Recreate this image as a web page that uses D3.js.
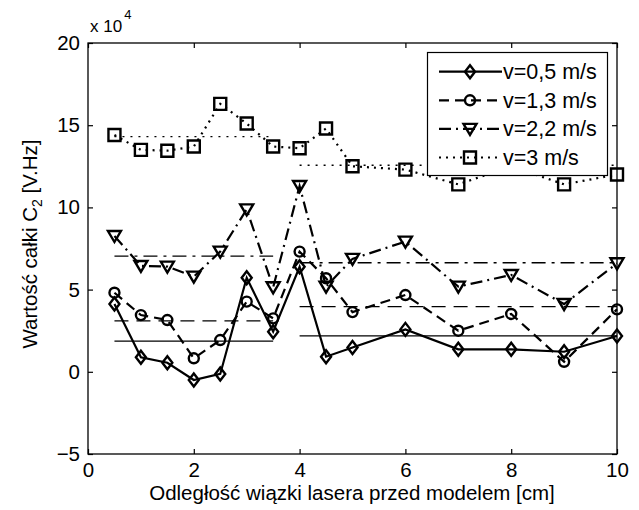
<!DOCTYPE html>
<html>
<head>
<meta charset="utf-8">
<script src="https://cdn.jsdelivr.net/npm/d3@7"></script>
<style>
  body { margin: 0; background: #fff; }
  text { font-family: "Liberation Sans", Arial, sans-serif; fill: #000; }
</style>
</head>
<body>
<svg id="chart" width="639" height="510"></svg>
<script>
// Measurement positions along the laser beam [cm]
const distances = [0.5, 1, 1.5, 2, 2.5, 3, 3.5, 4, 4.5, 5, 6, 7, 8, 9, 10];

// Integral C2 values, in units of 10^4 V.Hz
const v05 = [4.12, 0.88, 0.55, -0.5, -0.13, 5.72, 2.44, 6.39, 0.92, 1.48, 2.58, 1.37, 1.37, 1.22, 2.18];
const v13 = [4.81, 3.45, 3.15, 0.82, 1.93, 4.27, 3.25, 7.31, 5.69, 3.63, 4.67, 2.50, 3.52, 0.61, 3.80];
const v22 = [8.26, 6.44, 6.40, 5.79, 7.31, 9.88, 5.14, 11.30, 5.18, 6.87, 7.92, 5.18, 5.89, 4.12, 6.60];
const v30 = [14.4, 13.5, 13.45, 13.7, 16.3, 15.1, 13.7, 13.6, 14.8, 12.5, 12.3, 11.4, 12.5, 11.4, 12.0];

const seriesNames = ["v=0,5 m/s", "v=1,3 m/s", "v=2,2 m/s", "v=3 m/s"];
const xTickValues = [0, 2, 4, 6, 8, 10];
const yTickValues = [-5, 0, 5, 10, 15, 20];
// Averages are taken separately before and after x = 4 cm
const splitAt = 4;

const svg = d3.select("#chart");
const plotLeft = 88, plotRight = 617, plotTop = 43, plotBottom = 454;
const x = d3.scaleLinear().domain([0, 10]).range([plotLeft, plotRight]);
const y = d3.scaleLinear().domain([-5, 20]).range([plotBottom, plotTop]);
const FONT = 20.5;

// Marker shapes: diamond, circle, down-triangle, square
const markerPaths = {
  diamond: "M0,-6.5L5,0L0,6.5L-5,0Z",
  circle: d3.symbol(d3.symbolCircle, Math.PI * 25)(),
  triangle: "M-6.5,-5L6.5,-5L0,6Z",
  square: "M-6,-6H6V6H-6Z"
};

const styles = [
  { values: v05, marker: "diamond", dash: null, meanDash: null },
  { values: v13, marker: "circle", dash: "10,6", meanDash: "14,8" },
  { values: v22, marker: "triangle", dash: "12,5,2,5", meanDash: "14,6,3,6" },
  { values: v30, marker: "square", dash: "2,5", meanDash: "2,6" }
];

// Axes: inward ticks on all four sides
const gx = svg.append("g").attr("transform", `translate(0,${plotBottom})`)
  .call(d3.axisBottom(x).tickValues(xTickValues).tickSizeInner(-5).tickSizeOuter(0).tickPadding(8));
const gxTop = svg.append("g").attr("transform", `translate(0,${plotTop})`)
  .call(d3.axisTop(x).tickValues(xTickValues).tickSizeInner(-5).tickSizeOuter(0).tickFormat(""));
const gy = svg.append("g").attr("transform", `translate(${plotLeft},0)`)
  .call(d3.axisLeft(y).tickValues(yTickValues).tickSizeInner(-5).tickSizeOuter(0).tickPadding(8));
const gyRight = svg.append("g").attr("transform", `translate(${plotRight},0)`)
  .call(d3.axisRight(y).tickValues(yTickValues).tickSizeInner(-5).tickSizeOuter(0).tickFormat(""));

[gx, gxTop, gy, gyRight].forEach(g => {
  g.select(".domain").remove();
  g.selectAll(".tick line").attr("stroke", "#000").attr("stroke-width", 1.2);
  g.selectAll("text").attr("font-size", FONT).attr("font-family", null).attr("fill", "#000");
});
gx.selectAll(".tick text").attr("dy", "0.72em");

svg.append("rect")
  .attr("x", plotLeft).attr("y", plotTop)
  .attr("width", plotRight - plotLeft).attr("height", plotBottom - plotTop)
  .attr("fill", "none").attr("stroke", "#000").attr("stroke-width", 1.3);

// Exponent label
const expo = svg.append("text").attr("x", 90).attr("y", 32).attr("font-size", 17);
expo.append("tspan").text("x 10");
expo.append("tspan").attr("font-size", 13).attr("dy", -13).attr("dx", 2).text("4");

// Axis titles
svg.append("text")
  .attr("x", (plotLeft + plotRight) / 2 - 0.5).attr("y", 500)
  .attr("text-anchor", "middle").attr("font-size", FONT)
  .text("Odległość wiązki lasera przed modelem [cm]");

const yl = svg.append("text")
  .attr("transform", "translate(37,244) rotate(-90)")
  .attr("text-anchor", "middle").attr("font-size", FONT);
yl.append("tspan").text("Wartość całki C");
yl.append("tspan").attr("font-size", 14).attr("dy", 5).text("2");
yl.append("tspan").attr("dy", -5).text(" [V.Hz]");

const line = d3.line().x(d => x(d[0])).y(d => y(d[1]));

// Average lines for each speed, over the two ranges
styles.forEach(s => {
  const pts = distances.map((d, i) => [d, s.values[i]]);
  const groups = [pts.filter(p => p[0] < splitAt), pts.filter(p => p[0] >= splitAt)];
  groups.forEach(g => {
    const m = d3.mean(g, p => p[1]);
    svg.append("path")
      .attr("d", line([[g[0][0], m], [g[g.length - 1][0], m]]))
      .attr("fill", "none").attr("stroke", "#000").attr("stroke-width", 1.3)
      .attr("stroke-dasharray", s.meanDash);
  });
});

// Measured series
styles.forEach(s => {
  const pts = distances.map((d, i) => [d, s.values[i]]);
  svg.append("path")
    .attr("d", line(pts))
    .attr("fill", "none").attr("stroke", "#000").attr("stroke-width", 2.2)
    .attr("stroke-dasharray", s.dash);
  svg.append("g").selectAll("path").data(pts).join("path")
    .attr("transform", d => `translate(${x(d[0])},${y(d[1])})`)
    .attr("d", markerPaths[s.marker])
    .attr("fill", "none").attr("stroke", "#000").attr("stroke-width", 2.4);
});

// Legend
const lg = svg.append("g");
lg.append("rect")
  .attr("x", 427.5).attr("y", 52.5).attr("width", 180).attr("height", 123)
  .attr("fill", "#fff").attr("stroke", "#000").attr("stroke-width", 1.2);
styles.forEach((s, i) => {
  const cy = 71.7 + i * 28.6;
  lg.append("line")
    .attr("x1", 439).attr("x2", 502).attr("y1", cy).attr("y2", cy)
    .attr("stroke", "#000").attr("stroke-width", 2.2)
    .attr("stroke-dasharray", s.dash);
  lg.append("path")
    .attr("transform", `translate(470,${cy})`)
    .attr("d", markerPaths[s.marker])
    .attr("fill", "none").attr("stroke", "#000").attr("stroke-width", 2.4);
  lg.append("text")
    .attr("x", 503).attr("y", cy + 7.5).attr("font-size", 21.5)
    .text(seriesNames[i]);
});
</script>
</body>
</html>
